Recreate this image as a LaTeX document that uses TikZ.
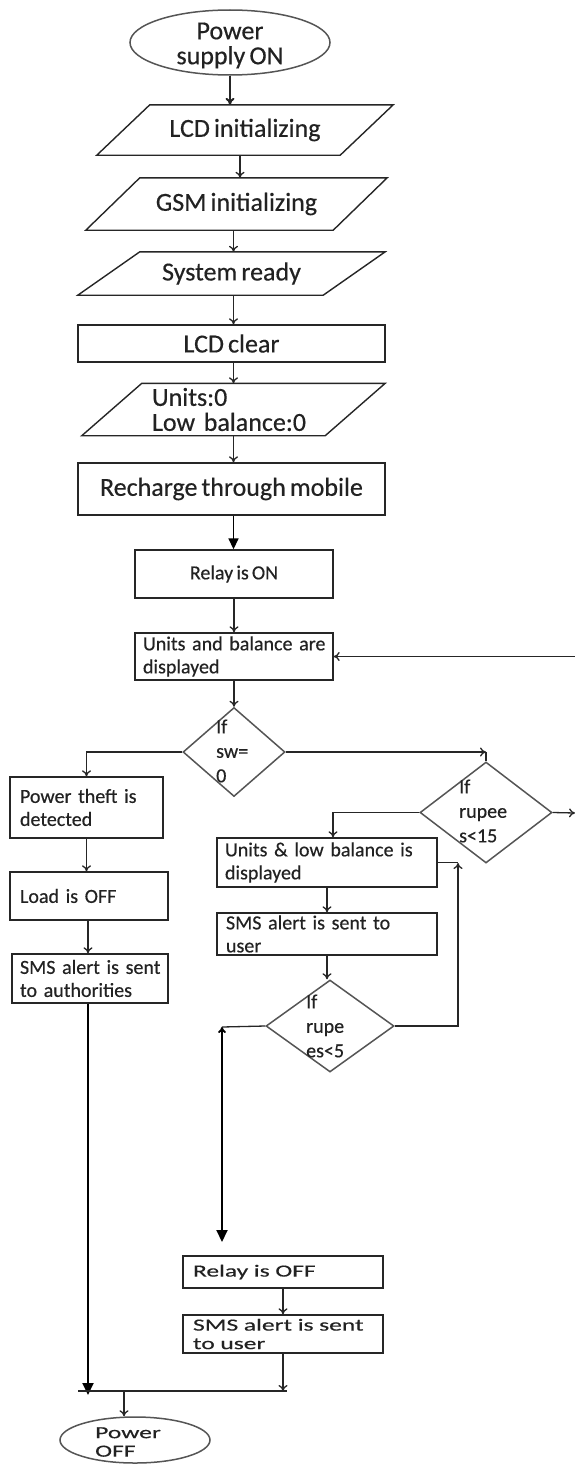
\documentclass[tikz,border=0pt]{standalone}
\usepackage{fontspec}
\setmainfont[WordSpace=0.7,FakeBold=0.4]{Carlito}
\newfontfamily\widefont[FakeStretch=1.5,WordSpace=0.7,FakeBold=0.4]{Carlito}
\usetikzlibrary{shapes.geometric,arrows.meta,calc}
\definecolor{ln}{HTML}{262626}
\definecolor{sh}{HTML}{555555}
\definecolor{tx}{HTML}{222222}
\newcommand{\iobox}[2]{\draw[pline] ([xshift=-#2]#1.south west) -- ([xshift=-#2]#1.south east) -- ([xshift=#2]#1.north east) -- ([xshift=#2]#1.north west) -- cycle;}
\begin{document}
\begin{tikzpicture}[x=1pt,y=-1pt,
  pline/.style={draw=ln, line width=1.4pt, line join=miter},
  line/.style={draw=ln, line width=1.3pt},
  arr/.style={line, -{To[length=6pt,width=9pt]}},
  bigarr/.style={draw=black, line width=1.9pt, -{Triangle[length=12pt,width=11pt]}},
  medarr/.style={draw=black, line width=1.7pt, -{Triangle[length=11pt,width=10pt]}},
  topfont/.style={font=\fontsize{26}{25}\selectfont},
  midfont/.style={font=\fontsize{20}{23}\selectfont},
  dfont/.style={font=\fontsize{20}{24.5}\selectfont},
  botfont/.style={font=\widefont\fontsize{17}{18.5}\selectfont},
  iotext/.style={rectangle, inner sep=0pt, text=tx, topfont},
  box/.style={rectangle, draw=ln, line width=1.4pt, inner ysep=0pt, text=tx},
  cbox/.style={box, inner xsep=0pt, align=center},
  lbox/.style={box, align=left},
  ell/.style={ellipse, draw=sh, line width=1.5pt, inner sep=0pt},
  dia/.style={diamond, draw=sh, line width=1.5pt, inner sep=0pt},
  ltext/.style={inner sep=0pt, text=tx, align=left},
]
\useasboundingbox (0,0) rectangle (575,1464);
\fill[white] (0,0) rectangle (575,1464);

% column coordinates
\coordinate (colA) at (233.5,0);
\coordinate (colB) at (240,0);
\coordinate (colL) at (88,0);

% start
\node[ell, minimum width=200, minimum height=65] (start) at (230,42.5) {};
\node[ltext, align=center, topfont] (startt) at (230,45.5) {Power\\supply ON};

% io boxes
\node[iotext, minimum width=243, minimum height=50] (lcd) at (245,130) {LCD initializing};
\iobox{lcd}{26.5}
\node[iotext, minimum width=247, minimum height=52] (gsm) at (236.5,204) {GSM initializing};
\iobox{gsm}{27}
\node[iotext, minimum width=245, minimum height=43] (sys) at (231.5,273.5) {System ready};
\iobox{sys}{31}
\node[cbox, topfont, minimum width=307, minimum height=37] (clear) at (231.5,343.5) {LCD clear};
\node[iotext, minimum width=243, minimum height=52, text width=163, inner xsep=40, align=left] (units) at (233.5,409.5) {Units:0\\\mbox{Low balance:0}};
\iobox{units}{30}
\node[cbox, topfont, minimum width=307, minimum height=52] (recharge) at (231.5,489) {Recharge through mobile};
\node[cbox, midfont, minimum width=198, minimum height=48] (relayon) at (234,574) {Relay is ON};
\node[lbox, midfont, minimum width=198, minimum height=47, text width=182, inner xsep=8] (ub) at (234,656.5) {\mbox{Units and balance are}\\displayed};

% sw decision
\node[dia, minimum width=102, minimum height=89] (sw) at (234,752) {};
\node[ltext, dfont, anchor=west] (swt) at (216,751) {If\\sw=\\0};

% left branch
\node[lbox, midfont, minimum width=153, minimum height=61, text width=133, inner xsep=10] (theft) at (86.5,807.5) {\mbox{Power theft is}\\detected};
\node[lbox, midfont, minimum width=158, minimum height=48, text width=138, inner xsep=10] (load) at (89,896) {Load is OFF};
\node[lbox, midfont, minimum width=156, minimum height=49, text width=140, inner xsep=8] (auth) at (90,978.5) {\mbox{SMS alert is sent}\\\mbox{to authorities}};

% rupees<15
\node[dia, minimum width=132, minimum height=101] (r15) at (486,812.5) {};
\node[ltext, dfont, anchor=west] (r15t) at (459,811) {If\\rupee\\s<15};
\node[lbox, midfont, minimum width=220, minimum height=49, text width=204, inner xsep=8] (ul) at (327,862.5) {\mbox{Units \& low balance is}\\displayed};
\node[lbox, midfont, minimum width=220, minimum height=42, text width=202, inner xsep=9] (smsu) at (327,934) {\mbox{SMS alert is sent to}\\user};

% rupees<5
\node[dia, minimum width=128, minimum height=92] (r5) at (330,1026) {};
\node[ltext, dfont, anchor=west] (r5t) at (306,1026) {If\\rupe\\es<5};

% bottom
\node[lbox, botfont, minimum width=200, minimum height=32, text width=180, inner xsep=10] (relayoff) at (283,1272) {Relay is OFF};
\node[lbox, botfont, minimum width=200, minimum height=38, text width=180, inner xsep=10] (smsu2) at (283,1334) {\mbox{SMS alert is sent}\\to user};
\node[ell, minimum width=150, minimum height=46] (stop) at (135,1440) {};
\node[ltext, botfont, anchor=west] (stopt) at (95,1442) {Power\\OFF};

% helper coordinates
\coordinate (k1) at (486,752);
\coordinate (eR) at (575,813);
\coordinate (eR2) at (575,656.5);
\coordinate (kU) at (458,863);
\coordinate (kL) at (222,1027);
\coordinate (tipM) at (222,1242);
\coordinate (tipL) at (88,1395);
\coordinate (jl) at (78,1391);
\coordinate (jr) at (287,1391);
\coordinate (jo) at (124,1391);

% main column
\draw[line, line width=2pt, -{To[length=7pt,width=9pt]}] (start.south) -- (start.south |- lcd.north);
\draw[arr] (lcd.south -| colB) -- (gsm.north -| colB);
\draw[arr] (gsm.south -| colA) -- (sys.north -| colA);
\draw[arr] (sys.south -| colA) -- (clear.north -| colA);
\draw[arr] (clear.south -| colA) -- (units.north -| colA);
\draw[arr] (units.south -| colA) -- (recharge.north -| colA);
\draw[medarr] (recharge.south -| colA) -- (relayon.north -| colA);
\draw[arr] (relayon.south) -- (ub.north);
\draw[arr] (ub.south) -- (sw.north);

% left branch
\draw[arr] (sw.west) -| (theft.north);
\draw[arr] (theft.south) -- (theft.south |- load.north);
\draw[arr] (load.south -| colL) -- (auth.north -| colL);
\draw[bigarr] (auth.south -| colL) -- (tipL);

% right branch
\draw[arr] (sw.east) -- (k1);
\draw[line] (k1) -- (r15.north);
\draw[arr] (r15.east) -- (eR);
\draw[arr] (eR2) -- (ub.east);
\draw[arr] (r15.west) -| ([xshift=6]ul.north);
\draw[arr] (ul.south) -- (smsu.north);
\draw[arr] (smsu.south) -- (smsu.south |- r5.north);
\draw[arr] (r5.east) -| (kU);
\draw[line] (ul.east) -- (ul.east -| kU);
\draw[line] (r5.west) -- (kL);
\draw[draw=black, line width=1.9pt, {To[length=6pt,width=8pt]}-{Triangle[length=12pt,width=11pt]}] (kL) -- (tipM);
\draw[arr] (relayoff.south) -- (smsu2.north);
\draw[arr] (smsu2.south) -- (smsu2.south |- jr);

% junction
\draw[line] (jl) -- (jr);
\draw[arr] (jo) -- (jo |- stop.north);
\end{tikzpicture}
\end{document}
